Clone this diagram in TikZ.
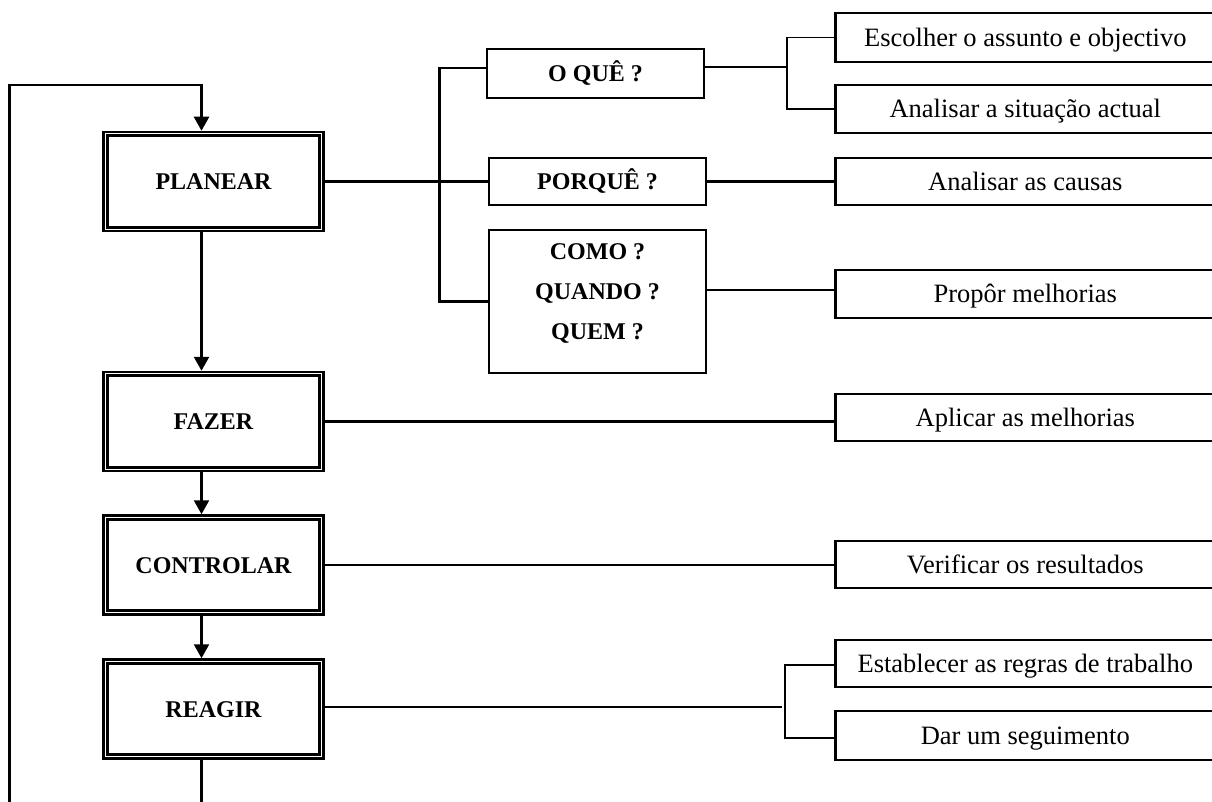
\documentclass[tikz,border=0pt]{standalone}
\usepackage{fontspec}
\setmainfont{Liberation Serif}
\usetikzlibrary{arrows.meta}

\tikzset{
  stage/.style={draw, line width=2.5pt, minimum width=220pt, minimum height=99pt,
    inner sep=0pt, font=\bfseries\fontsize{24}{28}\selectfont,
    text height=16pt, text depth=0pt},
  qbox/.style={draw, line width=2.6pt, minimum width=217pt, inner sep=0pt,
    font=\bfseries\fontsize{24}{28}\selectfont},
  qtext/.style={inner sep=0pt, align=center, font=\bfseries\fontsize{24}{40}\selectfont},
  actbox/.style={draw, line width=2.6pt, minimum width=380pt, inner sep=0pt,
    anchor=west, font=\fontsize{26.5}{30}\selectfont,
    text height=17.5pt, text depth=0pt},
  link/.style={line width=2.4pt},
  fine/.style={line width=1.5pt},
  arr/.style={line width=2.4pt, -{Triangle[length=14pt,width=15pt]}}
}

\begin{document}
\begin{tikzpicture}[x=1pt, y=-1pt]
\useasboundingbox (0,0) rectangle (1212,802);
\clip (0,0) rectangle (1212,802);

% PDCA stages
\node[stage] (pl) at (213.5,181.5) {PLANEAR};
\node[stage] (fz) at (213.5,421.5) {FAZER};
\node[stage] (ct) at (213.5,565) {CONTROLAR};
\node[stage] (re) at (213.5,709) {REAGIR};
\foreach \n in {pl,fz,ct,re}
  \draw[line width=3.2pt] ([xshift=5pt,yshift=-5pt]\n.north west)
    rectangle ([xshift=-5pt,yshift=5pt]\n.south east);

% questions of the planning step
\node[qbox, minimum height=49pt, text height=16pt, text depth=0pt] (oq) at (595.5,73.5) {O QUÊ ?};
\node[qbox, minimum height=47pt, text height=16pt, text depth=0pt] (pq) at (597.5,181.5) {PORQUÊ ?};
\node[qbox, minimum height=143pt] (co) at (597.5,301.5) {};
\node[qtext] (cot) at (597.5,293) {COMO ?\\QUANDO ?\\QUEM ?};

% actions
\node[actbox, minimum height=49pt] (e1) at (834,37.5) {Escolher o assunto e objectivo};
\node[actbox, minimum height=48pt] (e2) at (834,109) {Analisar a situação actual};
\node[actbox, minimum height=47pt] (ca) at (834,181.5) {Analisar as causas};
\node[actbox, minimum height=48pt] (pm) at (834,294) {Propôr melhorias};
\node[actbox, minimum height=47pt] (ap) at (834,417.5) {Aplicar as melhorias};
\node[actbox, minimum height=47pt] (vr) at (834,564.5) {Verificar os resultados};
\node[actbox, minimum height=47pt] (es) at (834,663.5) {Establecer as regras de trabalho};
\node[actbox, minimum height=49pt] (da) at (834,735.5) {Dar um seguimento};

% helper points
\coordinate (lpb) at (9.5,815);
\coordinate (lpt) at (201.5,85);
\coordinate (rb) at (201.5,815);
\coordinate (bq) at (439.5,200);
\coordinate (bo) at (787,67);
\coordinate (rj) at (782,707);
\coordinate (br) at (785,700);

% cycle
\draw[arr] (lpb) |- (lpt) -- (lpt |- pl.north);
\draw[arr] (lpt |- pl.south) -- (lpt |- fz.north);
\draw[arr] (lpt |- fz.south) -- (lpt |- ct.north);
\draw[arr] (lpt |- ct.south) -- (lpt |- re.north);
\draw[link] (lpt |- re.south) -- (rb);

% planning branches
\draw[link] (pl.east) -- (pq.west);
\draw[link] ([yshift=5.5pt]oq.west) -| (bq) |- (co.west);
\draw[link] ([yshift=6.5pt]oq.east) -- (bo);
\draw[fine] (e1.west) -| (bo) |- (e2.west);
\draw[link] (pq.east) -- (ca.west);
\draw[link] ([yshift=11.5pt]co.east) -- ([yshift=11.5pt]co.east -| pm.west);

% other stages
\draw[link] (fz.east) -- (fz.east -| ap.west);
\draw[link] (ct.east) -- (ct.east -| vr.west);
\draw[link] ([yshift=2pt]re.east) -- (rj);
\draw[link] ([yshift=-1.5pt]es.west) -| (br) |- ([yshift=-2.5pt]da.west);
\end{tikzpicture}
\end{document}
